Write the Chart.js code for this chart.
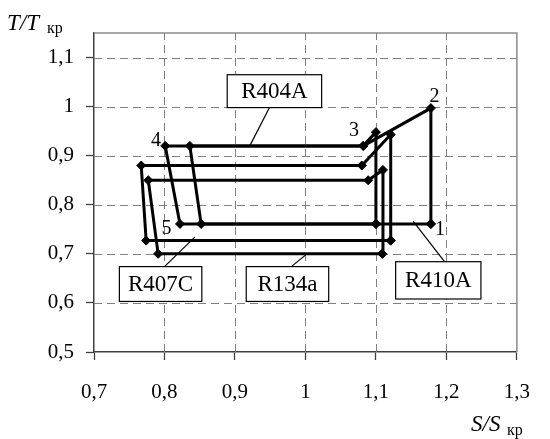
<!DOCTYPE html>
<html>
<head>
<meta charset="utf-8">
<script src="https://cdn.jsdelivr.net/npm/chart.js@4/dist/chart.umd.min.js"></script>
<style>
  html, body { margin: 0; padding: 0; background: #fff; }
  canvas { display: block; }
</style>
</head>
<body>
<canvas id="chart" width="550" height="439"></canvas>
<script>
// Refrigeration cycles in reduced coordinates S/Sкр – T/Tкр.
// Each cycle runs 1 → 2 → 3 → 4 → 5 → back to 1.
const r404aS = [1.100, 1.100, 1.082, 0.801, 0.822, 1.100];
const r404aT = [0.761, 0.948, 0.920, 0.920, 0.761, 0.761];

const r410aS = [1.178, 1.178, 1.082, 0.836, 0.852, 1.178];
const r410aT = [0.761, 0.997, 0.920, 0.920, 0.761, 0.761];

const r407cS = [1.121, 1.121, 1.080, 0.767, 0.774, 1.121];
const r407cT = [0.727, 0.943, 0.880, 0.880, 0.727, 0.727];

const r134aS = [1.109, 1.110, 1.089, 0.777, 0.791, 1.109];
const r134aT = [0.700, 0.871, 0.850, 0.850, 0.700, 0.700];

const xTicks = [0.7, 0.8, 0.9, 1, 1.1, 1.2, 1.3];
const yTicks = [0.5, 0.6, 0.7, 0.8, 0.9, 1, 1.1];

// State-point numbers, placed in data coordinates
const stateLabels = [
  { text: '1', s: 1.191, t: 0.749 },
  { text: '2', s: 1.183, t: 1.021 },
  { text: '3', s: 1.069, t: 0.950 },
  { text: '4', s: 0.788, t: 0.931 },
  { text: '5', s: 0.803, t: 0.752 }
];

// Refrigerant callouts: box corners [s1, t1, s2, t2] and leader line ends
const callouts = [
  { text: 'R404A', box: [0.889, 1.065, 1.023, 0.998], from: [0.949, 0.998], to: [0.921, 0.920] },
  { text: 'R407C', box: [0.736, 0.674, 0.853, 0.603], from: [0.800, 0.674], to: [0.843, 0.734] },
  { text: 'R134a', box: [0.916, 0.674, 1.033, 0.603], from: [0.980, 0.674], to: [1.003, 0.701] },
  { text: 'R410A', box: [1.128, 0.684, 1.249, 0.608], from: [1.199, 0.681], to: [1.153, 0.766] }
];

const SERIF = '"Liberation Serif", "Times New Roman", serif';

function toPoints(xs, ys) {
  return xs.map((x, i) => ({ x: x, y: ys[i] }));
}

function fmtTick(v) {
  if (Math.abs(v - Math.round(v)) < 1e-9) return String(Math.round(v));
  return v.toFixed(1).replace('.', ',');
}

function cycle(label, xs, ys) {
  return {
    label: label,
    data: toPoints(xs, ys),
    showLine: true,
    tension: 0,
    borderColor: '#000',
    borderWidth: 3,
    pointStyle: 'rectRot',
    pointRadius: 4.5,
    pointBorderWidth: 1,
    pointBackgroundColor: '#000',
    pointBorderColor: '#000'
  };
}

// Dashed grid inside the plot area, at the scales' own tick positions
const dashedGrid = {
  id: 'dashedGrid',
  beforeDatasetsDraw(chart) {
    const { ctx, chartArea: a, scales: { x, y } } = chart;
    ctx.save();
    ctx.strokeStyle = '#7f7f7f';
    ctx.lineWidth = 1;
    ctx.setLineDash([8, 5]);
    x.ticks.forEach(t => {
      const px = Math.round(x.getPixelForValue(t.value)) + 0.5;
      if (px <= a.left + 1 || px >= a.right - 1) return;
      ctx.beginPath();
      ctx.moveTo(px, a.bottom);
      ctx.lineTo(px, a.top);
      ctx.stroke();
    });
    y.ticks.forEach(t => {
      const py = Math.round(y.getPixelForValue(t.value)) + 0.5;
      if (py <= a.top + 1 || py >= a.bottom - 1) return;
      ctx.beginPath();
      ctx.moveTo(a.left, py);
      ctx.lineTo(a.right, py);
      ctx.stroke();
    });
    ctx.restore();
  }
};

const overlay = {
  id: 'overlay',
  afterDraw(chart) {
    const { ctx, chartArea: a, scales: { x, y } } = chart;
    ctx.save();

    // top and right frame of the plot
    ctx.strokeStyle = '#8a8a8a';
    ctx.lineWidth = 1.5;
    ctx.beginPath();
    ctx.moveTo(a.left, a.top);
    ctx.lineTo(a.right, a.top);
    ctx.lineTo(a.right, a.bottom);
    ctx.stroke();

    // callouts
    ctx.font = '23px ' + SERIF;
    ctx.textAlign = 'center';
    ctx.textBaseline = 'middle';
    callouts.forEach(c => {
      ctx.strokeStyle = '#000';
      ctx.lineWidth = 1.2;
      ctx.beginPath();
      ctx.moveTo(x.getPixelForValue(c.from[0]), y.getPixelForValue(c.from[1]));
      ctx.lineTo(x.getPixelForValue(c.to[0]), y.getPixelForValue(c.to[1]));
      ctx.stroke();
      const x1 = x.getPixelForValue(c.box[0]);
      const y1 = y.getPixelForValue(c.box[1]);
      const x2 = x.getPixelForValue(c.box[2]);
      const y2 = y.getPixelForValue(c.box[3]);
      ctx.fillStyle = '#fff';
      ctx.fillRect(x1, y1, x2 - x1, y2 - y1);
      ctx.strokeRect(x1, y1, x2 - x1, y2 - y1);
      ctx.fillStyle = '#000';
      ctx.fillText(c.text, (x1 + x2) / 2, (y1 + y2) / 2 + 1);
    });

    // state point numbers
    ctx.font = '20px ' + SERIF;
    stateLabels.forEach(p => {
      ctx.fillText(p.text, x.getPixelForValue(p.s), y.getPixelForValue(p.t));
    });

    // axis titles
    ctx.textAlign = 'left';
    ctx.textBaseline = 'alphabetic';
    ctx.font = 'italic 23px ' + SERIF;
    ctx.fillText('T/T', 7, 30);
    ctx.fillText('S/S', 471, 431);
    ctx.font = '16px ' + SERIF;
    ctx.fillText('кр', 47, 33);
    ctx.fillText('кр', 507, 435);

    ctx.restore();
  }
};

const axisGrid = {
  drawOnChartArea: false,
  tickColor: '#404040',
  tickLength: 8,
  tickWidth: 1.3
};

new Chart(document.getElementById('chart'), {
  type: 'scatter',
  data: {
    datasets: [
      cycle('R404A', r404aS, r404aT),
      cycle('R410A', r410aS, r410aT),
      cycle('R407C', r407cS, r407cT),
      cycle('R134a', r134aS, r134aT)
    ]
  },
  options: {
    responsive: false,
    animation: false,
    devicePixelRatio: 1,
    layout: { padding: { top: 33, right: 15, left: 0, bottom: 0 } },
    plugins: { legend: { display: false }, tooltip: { enabled: false } },
    scales: {
      x: {
        type: 'linear',
        min: 0.7,
        max: 1.3,
        afterBuildTicks: s => { s.ticks = xTicks.map(v => ({ value: v })); },
        afterFit: s => { s.height = 87; },
        ticks: {
          callback: fmtTick,
          color: '#000',
          font: { family: SERIF, size: 21 },
          padding: 20,
          maxRotation: 0,
          autoSkip: false
        },
        grid: axisGrid,
        border: { color: '#404040', width: 1.5 }
      },
      y: {
        type: 'linear',
        min: 0.5,
        max: 1.15,
        afterBuildTicks: s => { s.ticks = yTicks.map(v => ({ value: v })); },
        afterFit: s => { s.width = 94; },
        ticks: {
          callback: fmtTick,
          color: '#000',
          font: { family: SERIF, size: 21 },
          padding: 12,
          autoSkip: false
        },
        grid: axisGrid,
        border: { color: '#404040', width: 1.5 }
      }
    }
  },
  plugins: [dashedGrid, overlay]
});
</script>
</body>
</html>
